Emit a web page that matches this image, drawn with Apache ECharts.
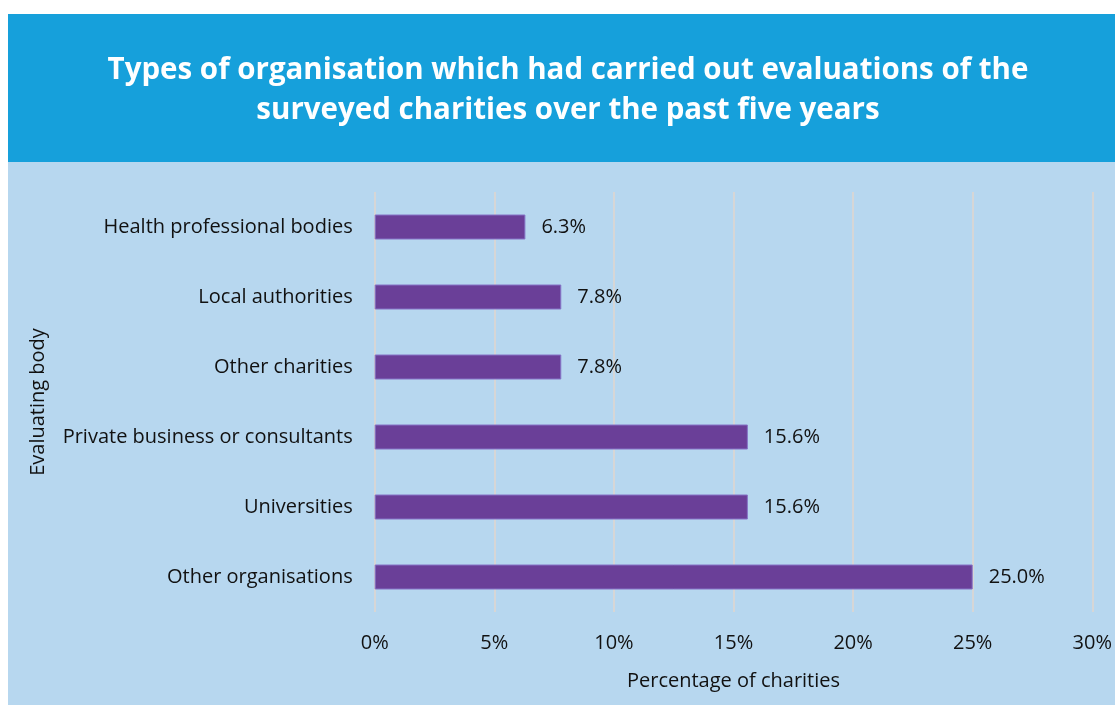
<!DOCTYPE html>
<html>
<head>
<meta charset="utf-8">
<script src="https://cdn.jsdelivr.net/npm/echarts@6/dist/echarts.min.js"></script>
<style>
  html, body { margin: 0; padding: 0; background: #ffffff; }
  #chart { width: 1115px; height: 705px; }
</style>
</head>
<body>
<div id="chart"></div>
<script>
// Evaluating bodies, listed top to bottom
const categories = [
  'Health professional bodies',
  'Local authorities',
  'Other charities',
  'Private business or consultants',
  'Universities',
  'Other organisations'
];
// Share of surveyed charities evaluated by each body (%)
const values = [6.3, 7.8, 7.8, 15.6, 15.6, 25.0];
const xTicks = [0, 5, 10, 15, 20, 25, 30];

const titleLines = [
  'Types of organisation which had carried out evaluations of the',
  'surveyed charities over the past five years'
];

const HEADER_BLUE = '#16a0db';
const PANEL_BLUE = '#b7d7ef';
const BAR_PURPLE = '#6a3f98';
const labelFont = '"Open Sans", Lato, sans-serif';
const LABEL_SIZE = 20;

const chart = echarts.init(document.getElementById('chart'), null, { renderer: 'canvas' });

// Header band, panel, and the two centred title lines
const graphics = [
  { type: 'rect', z: -10, silent: true, shape: { x: 8, y: 14, width: 1107, height: 148 }, style: { fill: HEADER_BLUE } },
  { type: 'rect', z: -10, silent: true, shape: { x: 8, y: 162, width: 1107, height: 543 }, style: { fill: PANEL_BLUE } }
];
titleLines.forEach((line, i) => {
  graphics.push({
    type: 'text', z: 10, silent: true,
    x: 568, y: 71 + i * 40,
    style: {
      text: line,
      fill: '#ffffff',
      font: 'bold 29.5px "Open Sans", sans-serif',
      align: 'center',
      verticalAlign: 'middle'
    }
  });
});

chart.setOption({
  animation: false,
  backgroundColor: '#ffffff',
  graphic: graphics,
  grid: { left: 374.7, right: 18.3, top: 192, bottom: 93, containLabel: false },
  xAxis: {
    type: 'value',
    min: 0, max: 30, interval: 5,
    name: 'Percentage of charities',
    nameLocation: 'middle',
    nameGap: 59,
    nameTextStyle: { fontFamily: labelFont, fontSize: LABEL_SIZE, color: '#111' },
    axisLine: { show: false },
    axisTick: { show: false },
    axisLabel: {
      margin: 21,
      fontFamily: labelFont, fontSize: LABEL_SIZE, color: '#111',
      formatter: v => xTicks.includes(v) ? v + '%' : ''
    },
    splitLine: { show: true, lineStyle: { color: '#d6d6d6', width: 2 } }
  },
  yAxis: {
    type: 'category',
    data: categories,
    inverse: true,
    name: 'Evaluating body',
    nameLocation: 'middle',
    nameGap: 326,
    nameRotate: 90,
    nameTextStyle: { fontFamily: labelFont, fontSize: LABEL_SIZE, color: '#111' },
    axisLine: { show: false },
    axisTick: { show: false },
    axisLabel: { margin: 22, fontFamily: labelFont, fontSize: LABEL_SIZE, color: '#111' },
    splitLine: { show: false }
  },
  series: [{
    type: 'bar',
    data: values,
    barWidth: 25,
    itemStyle: { color: BAR_PURPLE, borderColor: '#8573c6', borderWidth: 1 },
    label: {
      show: true,
      position: 'right',
      distance: 16,
      fontFamily: labelFont, fontSize: LABEL_SIZE, color: '#111',
      formatter: p => p.value.toFixed(1) + '%'
    }
  }]
});
</script>
</body>
</html>
